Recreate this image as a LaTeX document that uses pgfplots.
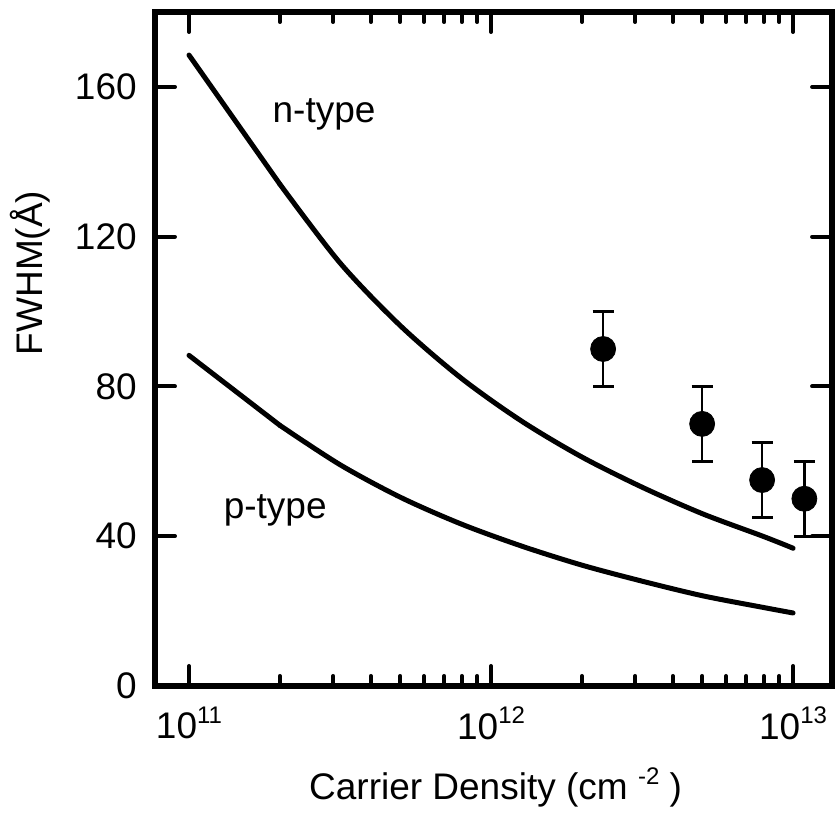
\documentclass[border=0pt]{standalone}
\usepackage{fontspec}
\setmainfont{Liberation Sans}
\usepackage{pgfplots}
\pgfplotsset{compat=1.18}
\usetikzlibrary{calc}
\newcommand\sups[1]{\raisebox{0.42em}{\fontsize{12}{12}\selectfont #1}}
\begin{document}
\begin{tikzpicture}
\fontsize{18.5}{22}\selectfont
\begin{axis}[
  name=ax,
  scale only axis,
  width=338.5pt, height=337pt,
  xmode=log,
  xmin=7.72e10, xmax=1.346e13,
  ymin=0, ymax=180,
  axis line style={line width=2.6pt},
  every tick/.style={line width=2pt, black, line cap=round},
  major tick length=10pt,
  minor tick length=5pt,
  tick align=inside,
  xtick={1e11,1e12,1e13},
  xticklabels={10\sups{11},10\sups{12},10\sups{13}},
  ytick={0,40,80,120,160},
  /pgf/number format/assume math mode=true,
  tick label style={font=\fontsize{18.5}{22}\selectfont},
  yticklabel style={xshift=-2.8pt},
  xticklabel style={yshift=-4pt},
  ylabel={FWHM(Å)},
  ylabel style={at={(axis description cs:-0.1846,0.6128)}, anchor=center, rotate=0, font=\fontsize{18.5}{22}\selectfont},
  xlabel={Carrier Density (cm \sups{-2} )},
  xlabel style={at={(axis description cs:0.503,-0.169)}, anchor=base, font=\fontsize{18.5}{22}\selectfont},
  clip=false,
]
% n-type
\addplot[black, line width=2.5pt, line cap=round] coordinates {
  (1e11,168.5) (2e11,134)
};
\addplot[black, line width=2.5pt, line cap=round, smooth, tension=0.5] coordinates {
  (2e11,134) (3.162e11,113.0) (5.012e11,96.2) (7.943e11,82.3) (1.259e12,70.8)
  (1.995e12,61.2) (3.162e12,53.1) (5.012e12,46.0) (7.943e12,40.0) (1e13,36.8)
};
% p-type
\addplot[black, line width=2.5pt, line cap=round] coordinates {
  (1e11,88.3) (2e11,69.6)
};
\addplot[black, line width=2.5pt, line cap=round, smooth, tension=0.5] coordinates {
  (2e11,69.6) (3.162e11,59.1) (5.012e11,50.4) (7.943e11,43.3) (1.259e12,37.4)
  (1.995e12,32.3) (3.162e12,28.0) (5.012e12,24.1) (7.943e12,21.0) (1e13,19.5)
};
\addplot[black, only marks, mark=*, mark size=6.25pt,
  error bars/.cd, y dir=both, y explicit,
  error bar style={line width=1.3pt},
  error mark options={rotate=90, mark size=5.3pt, line width=1.3pt}]
  coordinates {
  (2.35e12,90) +- (0,10)
  (5.0e12,70) +- (0,10)
  (7.9e12,55) +- (0,10)
  (1.09e13,50) +- (0,10)
};
\node[anchor=base] at (axis cs:2.8e11,150.4) {n-type};
\node[anchor=base] at (axis cs:1.93e11,44.8) {p-type};
\coordinate (bl) at (rel axis cs:0,0);
\coordinate (tr) at (rel axis cs:1,1);
\end{axis}
\pgfresetboundingbox
\path[use as bounding box] ($(bl)+(-77.5pt,-66pt)$) rectangle ($(tr)+(2pt,6pt)$);
\end{tikzpicture}
\end{document}
